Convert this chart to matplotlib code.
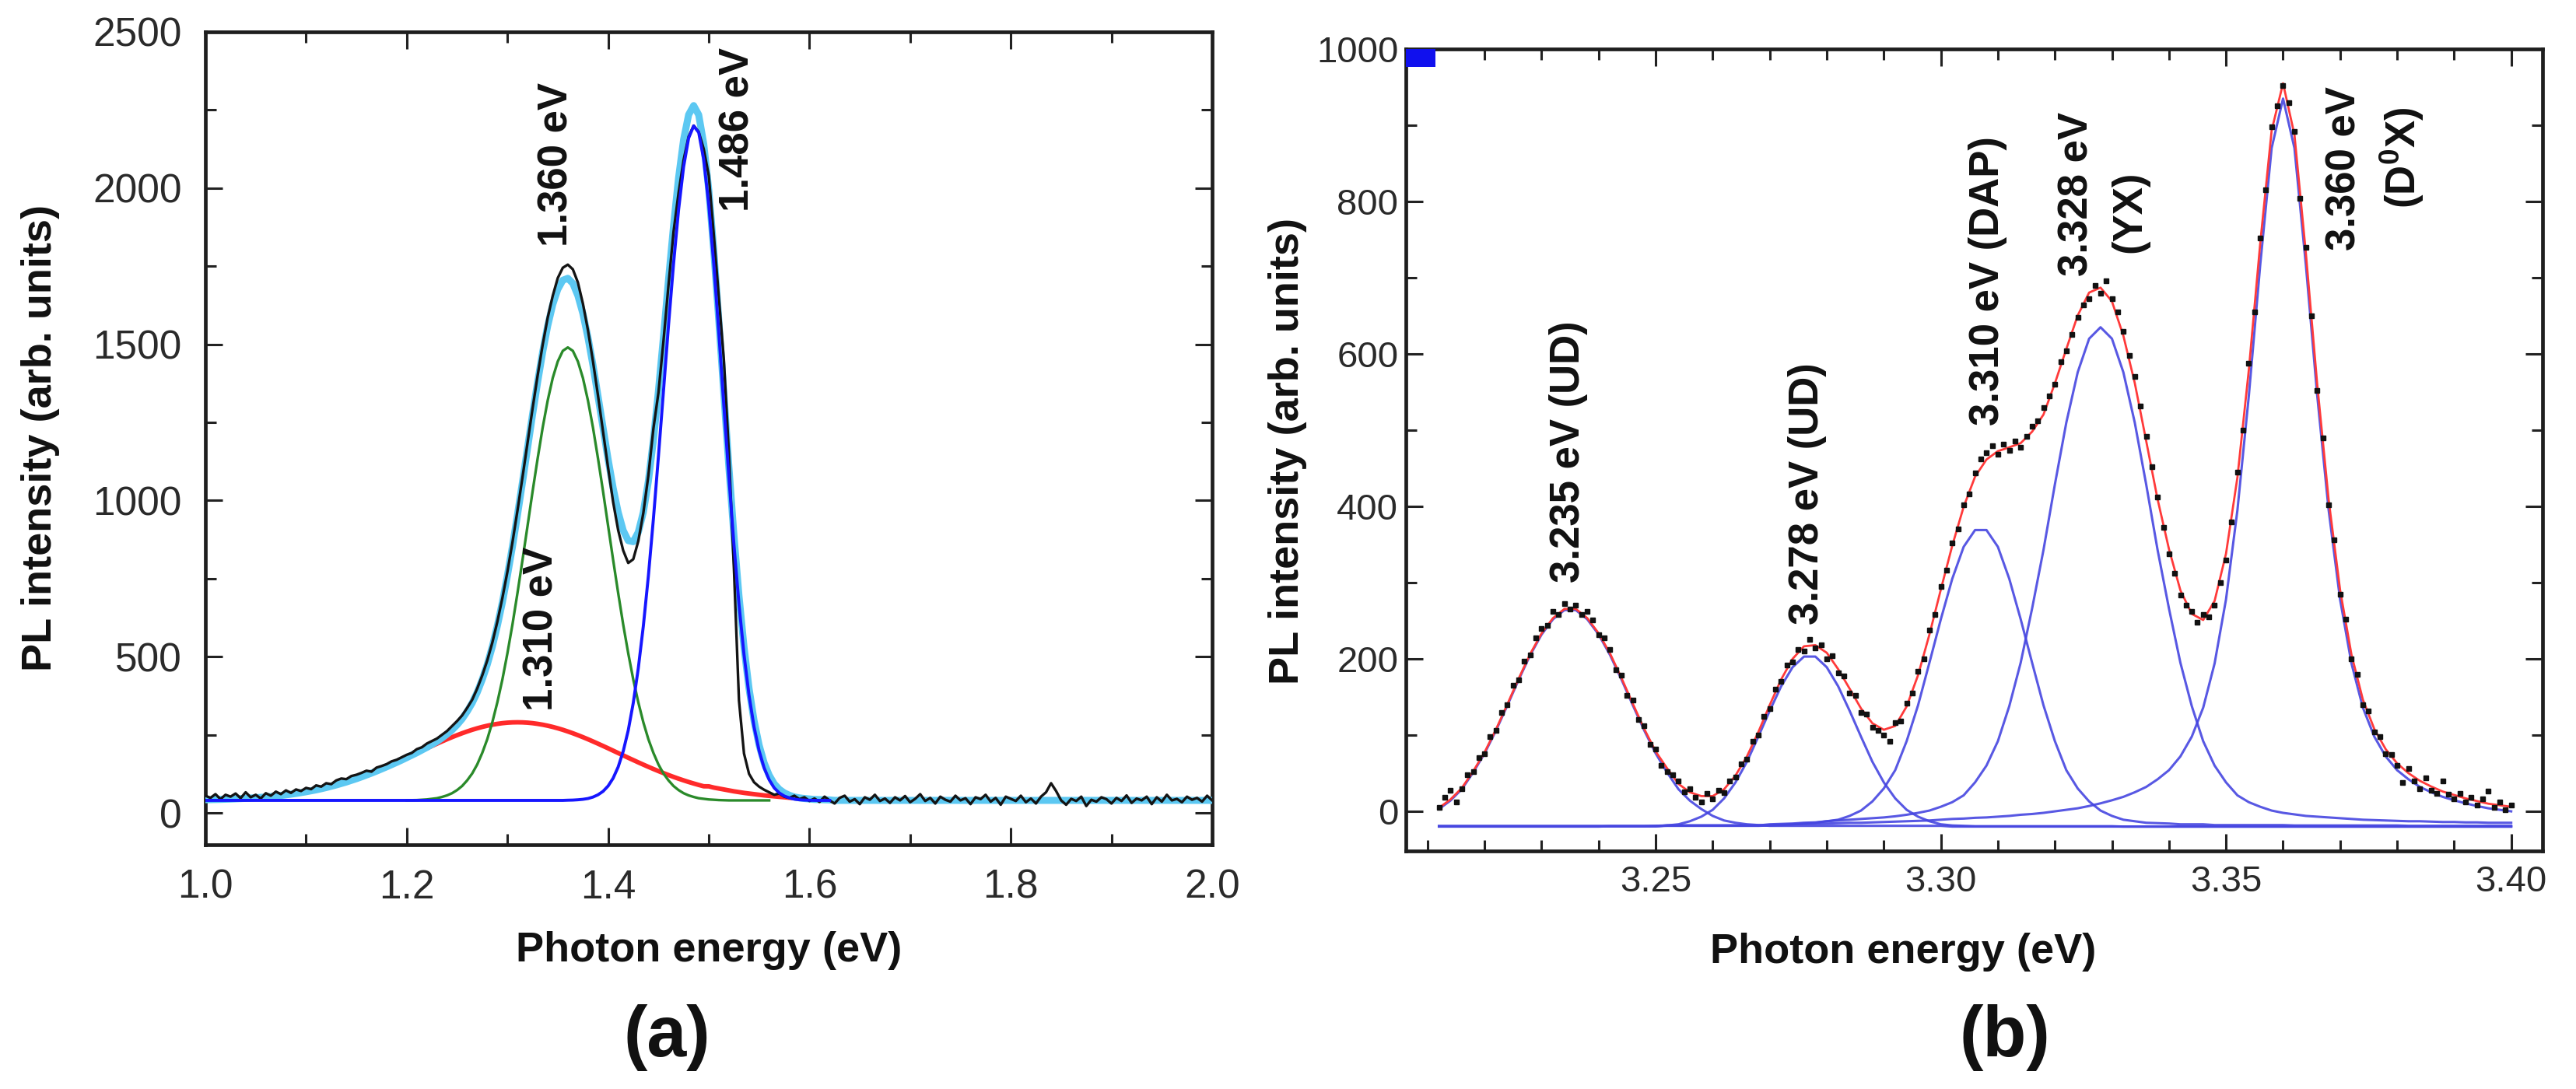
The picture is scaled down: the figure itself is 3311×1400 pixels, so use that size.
import numpy as np
import matplotlib
matplotlib.use("Agg")
import matplotlib.pyplot as plt
from matplotlib.ticker import MultipleLocator, FormatStrFormatter

plt.rcParams['font.family'] = ['Liberation Sans', 'DejaVu Sans']
plt.rcParams['mathtext.fontset'] = 'custom'
plt.rcParams['mathtext.rm'] = 'Liberation Sans'
plt.rcParams['mathtext.bf'] = 'Liberation Sans:bold'

# ---------------- panel (a) data ----------------
a_start, a_step, a_n = 1.0, 0.005, 201
a_baseline = 40.0

a_black = [
    55, 48, 60, 44, 58, 52, 62, 47, 66, 50,
    58, 46, 63, 55, 68, 60, 72, 64, 75, 70,
    80, 76, 88, 84, 95, 92, 104, 110, 108, 118,
    122, 128, 135, 132, 145, 150, 156, 165, 170, 178,
    186, 192, 204, 210, 222, 230, 238, 250, 262, 278,
    294, 312, 336, 362, 398, 440, 488, 545, 612, 688,
    772, 866, 968, 1075, 1185, 1295, 1400, 1498, 1585, 1655,
    1712, 1745, 1755, 1740, 1698, 1630, 1545, 1445, 1335, 1220,
    1105, 995, 905, 840, 800, 812, 870, 960, 1080, 1230,
    1345, 1510, 1690, 1860, 1985, 2090, 2165, 2200, 2180, 2125,
    2040, 1850, 1650, 1450, 1150, 780, 360, 190, 125, 98,
    84, 74, 66, 58, 62, 52, 48, 55, 44, 50,
    38, 46, 35, 52, 40, 30, 48, 55, 36, 44,
    28, 50, 42, 58, 38, 46, 32, 50, 40, 54,
    34, 45, 60, 38, 48, 30, 52, 42, 36, 55,
    40, 47, 28, 50, 44, 58, 36, 48, 26, 52,
    45, 38, 55, 34, 46, 30, 52, 66, 95, 70,
    40, 26, 45, 38, 52, 22, 42, 36, 50, 44,
    30, 48, 38, 56, 32, 46, 40, 52, 28, 50,
    36, 58, 40, 45, 34, 52, 42, 48, 36, 55,
    40]

# red component (1.310 eV), sampled 1.000 .. 1.620
a_red = [
    42.1, 42.4, 42.8, 43.2, 43.7, 44.3, 45.0, 45.7, 46.5, 47.5,
    48.5, 49.7, 51.0, 52.4, 54.0, 55.8, 57.7, 59.9, 62.2, 64.8,
    67.6, 70.6, 73.8, 77.3, 81.1, 85.2, 89.5, 94.1, 98.9, 104.1,
    109.5, 115.2, 121.2, 127.4, 133.8, 140.5, 147.4, 154.5, 161.7, 169.1,
    176.5, 184.1, 191.6, 199.2, 206.8, 214.2, 221.5, 228.7, 235.7, 242.4,
    248.8, 254.9, 260.6, 266.0, 270.8, 275.2, 279.0, 282.3, 285.0, 287.2,
    288.8, 289.7, 290.0, 289.7, 288.8, 287.2, 285.0, 282.3, 279.0, 275.2,
    270.8, 266.0, 260.6, 254.9, 248.8, 242.4, 235.7, 228.7, 221.5, 214.2,
    206.8, 199.2, 191.6, 184.1, 176.5, 169.1, 161.7, 154.5, 147.4, 140.5,
    133.8, 127.4, 121.2, 115.2, 109.5, 104.1, 98.9, 94.1, 89.5, 85.2,
    85, 81, 78, 75, 72, 69, 66.5, 64, 62, 60,
    58, 56, 54.5, 53, 51.5, 50, 48.5, 47, 46, 45,
    44, 43, 42.5, 42, 41.5]

# green component (1.360 eV), sampled 1.200 .. 1.560
a_green = [
    40.5, 40.7, 41, 42, 43, 45, 47, 51, 56, 63,
    73, 86, 104, 126, 155, 192, 236, 290, 354, 427,
    511, 603, 704, 810, 919, 1029, 1134, 1233, 1320, 1392,
    1445, 1479, 1490, 1479, 1445, 1392, 1320, 1233, 1134, 1029,
    919, 810, 704, 603, 511, 427, 354, 290, 236, 192,
    155, 126, 104, 86, 73, 63, 56, 51, 47, 45,
    43, 42, 41, 40.5, 40, 40, 40, 40, 40, 40,
    40, 40, 40]

# blue component (1.486 eV), sampled 1.360 .. 1.620
a_blue = [
    40.6, 41, 42, 43.5, 46, 50.7, 58, 69, 86, 111,
    147, 197, 264, 352, 463, 598, 758, 941, 1141, 1350,
    1560, 1757, 1930, 2068, 2160, 2199, 2178, 2091, 1946, 1756,
    1536, 1303, 1074, 859, 668, 507, 376, 275, 199, 144,
    106, 80, 64, 54, 48, 44, 42, 41, 40.5, 40,
    40, 40, 40]

a_labels = ["1.360 eV", "1.486 eV", "1.310 eV"]
a_label_x = [1.349, 1.5286, 1.3346]
a_label_y = [1813, 1925, 326]

# ---------------- panel (b) data ----------------
b_start, b_step, b_n = 3.212, 0.002, 95
b_baseline = -20.0

b_comp_A = ([3, 14, 29, 51, 76, 106, 139, 173, 205, 232, 252, 264, 264, 252, 232,
             205, 173, 139, 106, 76, 51, 29, 14, 3, -6,
             -12, -15, -17, -18, -19] + [-19] * 15 + [-20] * 50)
b_comp_B = ([-20] * 15 + [-19.5, -19.5, -19.5, -19.5, -19] +
            [-18.5, -17, -13, -7, 2, 17, 38, 65, 98, 132, 164, 189, 203, 203, 189,
             164, 132, 98, 65, 38, 17, 2, -7, -13, -17, -18.5, -19] +
            [-19.5] * 13 + [-20] * 35)
b_comp_C = ([-19.5] * 20 + [-19] * 9 +
            [-18.5, -18, -17, -16, -15, -13, -11, -6, 1, 13, 30, 54, 92, 139, 195,
             252, 305, 347, 369, 369, 347, 305, 252, 195, 139, 92, 54, 30, 13, 1,
             -6, -11, -13, -15, -15.5, -16, -17, -17, -17] +
            [-18] * 7 + [-18.5] * 10 + [-19] * 10)
b_comp_D = ([-19.5] * 20 + [-18.5] * 9 +
            [-17, -16.5, -16, -15, -14.5, -13, -12, -11, -10, -9,
             -8, -6.5, -4.5, -2, 1, 6, 12, 21, 38, 60,
             92, 138, 195, 266, 343, 429, 510, 576, 620, 635,
             620, 576, 510, 429, 343, 266, 195, 138, 92, 60,
             38, 21, 12, 6, 1, -2, -4, -6, -7, -8,
             -9, -10, -11, -11.5, -12, -12.5, -13, -13, -13.5, -14,
             -14, -14.5, -14.5, -15, -15, -15])
b_comp_E = ([-19.5] * 20 + [-18.5] * 9 +
            [-18, -17.5, -17, -16.5, -16.5, -16, -15.5, -15, -15, -14.5,
             -14, -13.5, -13, -12.5, -12, -11, -10, -9.5, -8.5, -8,
             -7, -6, -4.5, -3.5, -2, 0, 2, 4, 7, 10.5,
             14.5, 19, 25, 32, 42, 54, 72, 98, 136, 194,
             278, 395, 545, 717, 870, 935, 870, 717, 545, 395,
             278, 194, 136, 98, 72, 54, 42, 32, 25, 19,
             14.5, 10.5, 7, 4, 2, 0])

b_data_start, b_data_step = 3.212, 0.001
b_data = [
    5, 18, 28, 12, 30, 48, 52, 70, 76, 98,
    106, 130, 140, 165, 172, 197, 205, 228, 240, 244,
    262, 258, 272, 265, 270, 258, 262, 251, 232, 228,
    212, 186, 179, 152, 146, 120, 112, 88, 82, 60,
    52, 48, 40, 26, 30, 18, 12, 24, 16, 28,
    25, 40, 45, 62, 68, 92, 100, 125, 135, 160,
    170, 192, 196, 212, 210, 226, 214, 218, 200, 204,
    182, 178, 155, 152, 130, 128, 110, 106, 100, 92,
    116, 118, 142, 155, 184, 200, 238, 258, 295, 316,
    352, 370, 402, 416, 444, 462, 470, 480, 468, 482,
    474, 486, 478, 492, 505, 512, 530, 545, 560, 590,
    604, 626, 648, 664, 672, 690, 680, 696, 672, 655,
    630, 598, 570, 532, 492, 452, 412, 372, 338, 312,
    284, 270, 262, 248, 258, 255, 270, 300, 330, 380,
    445, 500, 588, 655, 752, 815, 898, 926, 952, 930,
    892, 804, 740, 650, 552, 490, 402, 356, 285, 252,
    200, 180, 140, 132, 104, 98, 76, 75, 60, 38,
    56, 40, 30, 44, 28, 24, 40, 22, 16, 24,
    12, 18, 8, 16, 27, 5, 12, 2, 8]

b_labels = ["3.235 eV (UD)", "3.278 eV (UD)", "3.310 eV (DAP)", "3.328 eV", "3.360 eV"]
b_label_x = [3.2347, 3.2766, 3.3082, 3.3239, 3.3708]
b_label_y = [300, 245, 506, 702, 736]
b_sub_labels = ["(YX)", r"(D$^{\mathbf{0}}$X)"]
b_sub_x = [3.3331, 3.3808]
b_sub_y = [786, 857]

b_marker_x = [3.2062, 3.2114]
b_marker_y = [977, 1000]

# ---------------- build grids ----------------
a_x = np.round(a_start + a_step * np.arange(a_n), 3)
assert len(a_black) == a_n
i_red_end = len(a_red)
i_green0 = int(round((1.200 - a_start) / a_step))
i_blue0 = int(round((1.360 - a_start) / a_step))
red_full = np.concatenate([a_red, np.full(a_n - len(a_red), a_baseline)])
green_full = np.concatenate([np.full(i_green0, a_baseline), a_green,
                             np.full(a_n - i_green0 - len(a_green), a_baseline)])
blue_full = np.concatenate([np.full(i_blue0, a_baseline), a_blue,
                            np.full(a_n - i_blue0 - len(a_blue), a_baseline)])
fit_sum_a = red_full + green_full + blue_full - 2 * a_baseline

b_x = np.round(b_start + b_step * np.arange(b_n), 3)
comps = [np.array(c, dtype=float) for c in (b_comp_A, b_comp_B, b_comp_C, b_comp_D, b_comp_E)]
for c in comps:
    assert len(c) == b_n, len(c)
fit_sum_b = b_baseline + sum(c - b_baseline for c in comps)
b_dx = np.round(b_data_start + b_data_step * np.arange(len(b_data)), 3)

# ---------------- figure ----------------
W, H = 3311, 1400
fig = plt.figure(figsize=(W / 100, H / 100), dpi=100)
fig.patch.set_facecolor('white')

axA = fig.add_axes([264 / W, 1 - 1086 / H, (1558 - 264) / W, (1086 - 41) / H])
axB = fig.add_axes([1807 / W, 1 - 1094 / H, (3268 - 1807) / W, (1094 - 63) / H])

# panel (a) curves
axA.plot(a_x[:i_red_end], a_red, color='#ff2a2a', lw=4.2, zorder=2, solid_capstyle='round')
axA.plot(a_x, fit_sum_a, color='#5cc8f2', lw=6.5, zorder=3, solid_capstyle='round')
axA.plot(a_x[i_green0:i_green0 + len(a_green)], a_green, color='#2a8a2a', lw=2.4, zorder=4)
axA.plot(a_x, a_black, color='#141414', lw=2.4, zorder=5)
end_blue = i_blue0 + len(a_blue)
axA.plot(a_x[:end_blue], blue_full[:end_blue], color='#1616ff', lw=2.8, zorder=6)

axA.set_xlim(1.0, 2.0)
axA.set_ylim(-102, 2500)
axA.xaxis.set_major_locator(MultipleLocator(0.2))
axA.xaxis.set_minor_locator(MultipleLocator(0.1))
axA.yaxis.set_major_locator(MultipleLocator(500))
axA.yaxis.set_minor_locator(MultipleLocator(250))
axA.xaxis.set_major_formatter(FormatStrFormatter('%.1f'))

for t, x, y in zip(a_labels, a_label_x, a_label_y):
    axA.text(x, y, t, rotation=90, ha='center', va='bottom', fontsize=38,
             fontweight='bold', color='#111111', zorder=10)

# panel (b) curves
for c in comps:
    axB.plot(b_x, c, color='#4646e0', lw=2.2, zorder=2, alpha=0.9)
axB.plot(b_x, fit_sum_b, color='#ff3a3a', lw=2.0, zorder=3)
axB.plot(b_dx, b_data, linestyle='none', marker='s', ms=4.4, color='#111111', zorder=4)
axB.fill_between(b_marker_x, b_marker_y[0], b_marker_y[1], color='#1010ee',
                 clip_on=False, zorder=6, lw=0)

axB.set_xlim(3.2062, 3.4055)
axB.set_ylim(-52, 1000)
axB.xaxis.set_major_locator(MultipleLocator(0.05))
axB.xaxis.set_minor_locator(MultipleLocator(0.01))
axB.yaxis.set_major_locator(MultipleLocator(200))
axB.yaxis.set_minor_locator(MultipleLocator(100))
axB.xaxis.set_major_formatter(FormatStrFormatter('%.2f'))

for t, x, y in zip(b_labels, b_label_x, b_label_y):
    axB.text(x, y, t, rotation=90, ha='center', va='bottom', fontsize=38,
             fontweight='bold', color='#111111', zorder=10)
for t, x, y in zip(b_sub_labels, b_sub_x, b_sub_y):
    axB.text(x, y, t, rotation=90, ha='center', va='center', fontsize=38,
             fontweight='bold', color='#111111', zorder=10)

# axes styling
for ax, lsize, xpad, ypad in ((axA, 37, 22, 22), (axB, 34, 13, 7)):
    for sp in ax.spines.values():
        sp.set_linewidth(3.4)
        sp.set_color('#1e1e1e')
    ax.tick_params(which='both', direction='in', top=True, right=True,
                   width=2.2, color='#222222')
    ax.tick_params(which='major', length=16)
    ax.tick_params(which='minor', length=10)
    ax.tick_params(axis='x', which='major', labelsize=lsize, pad=xpad, labelcolor='#2a2a2a')
    ax.tick_params(axis='y', which='major', labelsize=lsize, pad=ypad, labelcolor='#2a2a2a')

def ftext(xp, yp, s, **kw):
    fig.text(xp / W, 1 - yp / H, s, **kw)

ftext(52, 563, "PL intensity (arb. units)", rotation=90, ha='center', va='center',
      fontsize=39, fontweight='bold', color='#111111')
ftext(1655, 580, "PL intensity (arb. units)", rotation=90, ha='center', va='center',
      fontsize=39, fontweight='bold', color='#111111')
ftext(911, 1222, "Photon energy (eV)", ha='center', va='center',
      fontsize=39, fontweight='bold', color='#111111')
ftext(2446, 1224, "Photon energy (eV)", ha='center', va='center',
      fontsize=39, fontweight='bold', color='#111111')
ftext(857, 1334, "(a)", ha='center', va='center', fontsize=66, fontweight='bold', color='#111111')
ftext(2577, 1334, "(b)", ha='center', va='center', fontsize=66, fontweight='bold', color='#111111')

fig.savefig("out.png", dpi=100, facecolor='white')
